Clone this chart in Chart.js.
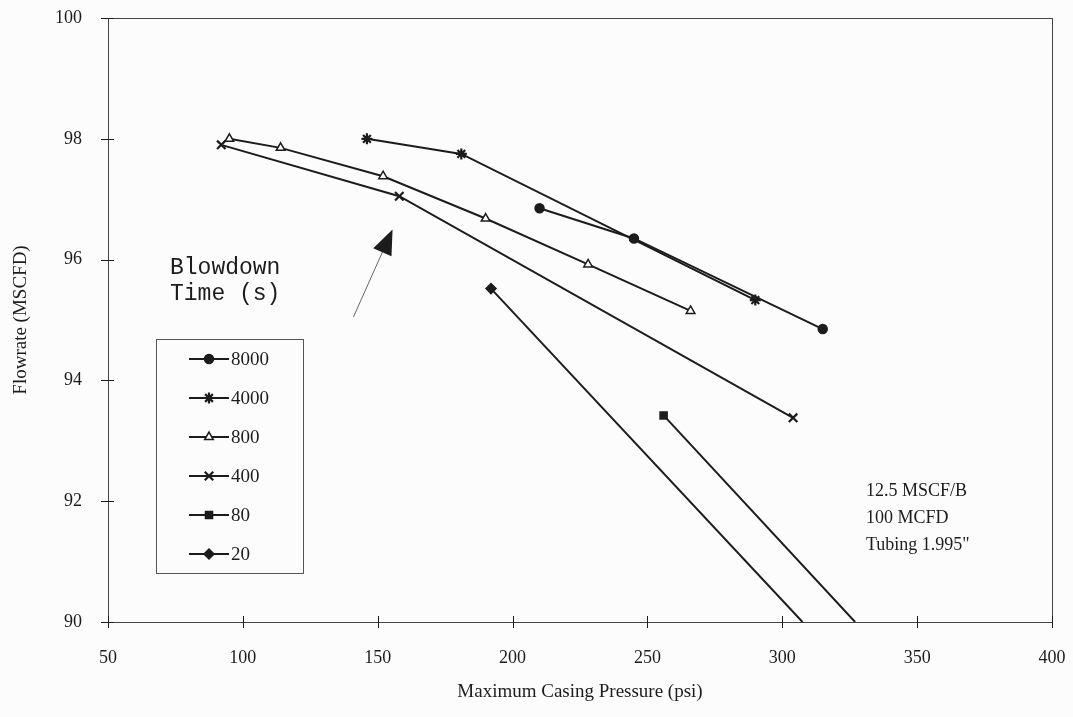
<!DOCTYPE html>
<html>
<head>
<meta charset="utf-8">
<script src="https://cdn.jsdelivr.net/npm/chart.js@4/dist/chart.umd.min.js"></script>
<style>
  html, body { margin: 0; padding: 0; background: #fcfcfc; }
  #wrap { width: 1073px; height: 717px; }
</style>
</head>
<body>
<div id="wrap"><canvas id="flowChart" width="1073" height="717"></canvas></div>
<script>
// blowdown time series (s) and values
const seriesNames = ["8000", "4000", "800", "400", "80", "20"];
const pressure8000 = [210, 245, 315];
const flow8000 = [96.85, 96.35, 94.85];
const pressure4000 = [146, 181, 290];
const flow4000 = [98.0, 97.75, 95.33];
const pressure800 = [95, 114, 152, 190, 228, 266];
const flow800 = [98.0, 97.85, 97.38, 96.68, 95.92, 95.15];
const pressure400 = [92, 158, 304];
const flow400 = [97.9, 97.05, 93.38];
const pressure80 = [256, 327];
const flow80 = [93.42, 90.0];
const pressure20 = [192, 307.5];
const flow20 = [95.52, 90.0];

const xTicks = [50, 100, 150, 200, 250, 300, 350, 400];
const yTicks = [90, 92, 94, 96, 98, 100];
const notes = ["12.5 MSCF/B", "100 MCFD", "Tubing 1.995\""];

const ink = "#1c1c1c";

function toPoints(xs, ys) {
  return xs.map((x, i) => ({ x: x, y: ys[i] }));
}

const allSeries = [
  { pts: toPoints(pressure8000, flow8000), style: "circle", r: 4.5, fill: ink, endless: false },
  { pts: toPoints(pressure4000, flow4000), style: "star", r: 5.5, fill: ink, endless: false },
  { pts: toPoints(pressure800, flow800), style: "triangle", r: 5, fill: "#fcfcfc", endless: false },
  { pts: toPoints(pressure400, flow400), style: "crossRot", r: 6, fill: ink, endless: false },
  { pts: toPoints(pressure80, flow80), style: "rect", r: 5, fill: ink, endless: true },
  { pts: toPoints(pressure20, flow20), style: "rectRot", r: 5, fill: ink, endless: true },
];

const datasets = allSeries.map((s, i) => ({
  label: seriesNames[i],
  data: s.pts,
  borderColor: ink,
  backgroundColor: s.fill,
  borderWidth: 2,
  pointStyle: s.style,
  pointRadius: s.pts.map((p, j) => (s.endless && j === s.pts.length - 1 ? 0 : s.r)),
  pointBorderWidth: s.style === "star" || s.style === "crossRot" ? 2.2 : 1.5,
  pointBorderColor: ink,
  pointBackgroundColor: s.fill,
  tension: 0,
  clip: 0,
}));

// frame, crossing ticks, legend box, arrow and notes
const decor = {
  id: "decor",
  afterDraw(chart) {
    const c = chart.ctx;
    const a = chart.chartArea;
    const xs = chart.scales.x, ys = chart.scales.y;
    c.save();
    c.strokeStyle = "#444";
    c.lineWidth = 1;
    c.strokeRect(a.left + 0.5, a.top + 0.5, a.right - a.left, a.bottom - a.top);

    c.strokeStyle = ink;
    xTicks.forEach((v) => {
      const px = Math.round(xs.getPixelForValue(v)) + 0.5;
      c.beginPath(); c.moveTo(px, a.bottom - 6); c.lineTo(px, a.bottom + 6); c.stroke();
    });
    yTicks.forEach((v) => {
      const py = Math.round(ys.getPixelForValue(v)) + 0.5;
      c.beginPath(); c.moveTo(a.left - 7, py); c.lineTo(a.left + 6, py); c.stroke();
    });

    // legend
    c.fillStyle = "#fcfcfc";
    c.fillRect(156, 339, 147, 234);
    c.strokeStyle = "#555";
    c.strokeRect(156.5, 339.5, 147, 234);
    c.font = "19px 'Liberation Serif'";
    c.textBaseline = "middle";
    chart.data.datasets.forEach((ds, i) => {
      const y = 359 + i * 39;
      c.strokeStyle = ink;
      c.lineWidth = 2;
      c.beginPath(); c.moveTo(189, y); c.lineTo(229, y); c.stroke();
      c.fillStyle = allSeries[i].fill;
      c.lineWidth = ds.pointBorderWidth;
      Chart.helpers.drawPoint(c, { pointStyle: ds.pointStyle, radius: allSeries[i].r, rotation: 0, borderWidth: ds.pointBorderWidth }, 209, y);
      c.fillStyle = ink;
      c.fillText(ds.label, 231, y + 1);
    });

    // arrow
    const tx = xs.getPixelForValue(141), ty = ys.getPixelForValue(95.05);
    const hx = xs.getPixelForValue(155.5), hy = ys.getPixelForValue(96.5);
    const ang = Math.atan2(hy - ty, hx - tx);
    c.strokeStyle = "#666";
    c.lineWidth = 1;
    c.beginPath(); c.moveTo(tx, ty); c.lineTo(hx - 18 * Math.cos(ang), hy - 18 * Math.sin(ang)); c.stroke();
    c.fillStyle = ink;
    c.beginPath();
    c.moveTo(hx, hy);
    c.lineTo(hx - 25 * Math.cos(ang) + 10 * Math.sin(ang), hy - 25 * Math.sin(ang) - 10 * Math.cos(ang));
    c.lineTo(hx - 25 * Math.cos(ang) - 10 * Math.sin(ang), hy - 25 * Math.sin(ang) + 10 * Math.cos(ang));
    c.closePath(); c.fill();

    c.font = "23px 'Liberation Mono'";
    c.textBaseline = "alphabetic";
    c.textAlign = "left";
    c.fillText("Blowdown", 170, 274);
    c.fillText("Time (s)", 170, 300);

    c.font = "18px 'Liberation Serif'";
    notes.forEach((t, i) => c.fillText(t, 866, 496 + i * 27));
    c.restore();
  },
};

const ctx = document.getElementById("flowChart").getContext("2d");
window.flowChart = new Chart(ctx, {
  type: "line",
  data: { datasets: datasets },
  options: {
    responsive: false,
    animation: false,
    layout: { padding: { top: 18, right: 21, left: 0, bottom: 0 } },
    plugins: { legend: { display: false }, tooltip: { enabled: false } },
    scales: {
      x: {
        type: "linear",
        min: 50,
        max: 400,
        afterBuildTicks: (s) => { s.ticks = xTicks.map((v) => ({ value: v })); },
        afterFit: (s) => { s.height = 95; s.paddingLeft = 0; s.paddingRight = 0; },
        grid: { display: false },
        border: { display: false },
        ticks: { color: ink, padding: 17, font: { family: "'Liberation Serif'", size: 18 } },
        title: {
          display: true,
          text: "Maximum Casing Pressure (psi)",
          color: ink,
          padding: { top: 2, bottom: 14 },
          font: { family: "'Liberation Serif'", size: 19 },
        },
      },
      y: {
        type: "linear",
        min: 90,
        max: 100,
        afterBuildTicks: (s) => { s.ticks = yTicks.map((v) => ({ value: v })); },
        afterFit: (s) => { s.width = 108; s.paddingTop = 0; s.paddingBottom = 0; },
        grid: { display: false },
        border: { display: false },
        ticks: { color: ink, padding: 18, font: { family: "'Liberation Serif'", size: 18 } },
        title: {
          display: true,
          text: "Flowrate (MSCFD)",
          color: ink,
          padding: { bottom: 0, top: 10 },
          font: { family: "'Liberation Serif'", size: 19 },
        },
      },
    },
  },
  plugins: [decor],
});
</script>
</body>
</html>
